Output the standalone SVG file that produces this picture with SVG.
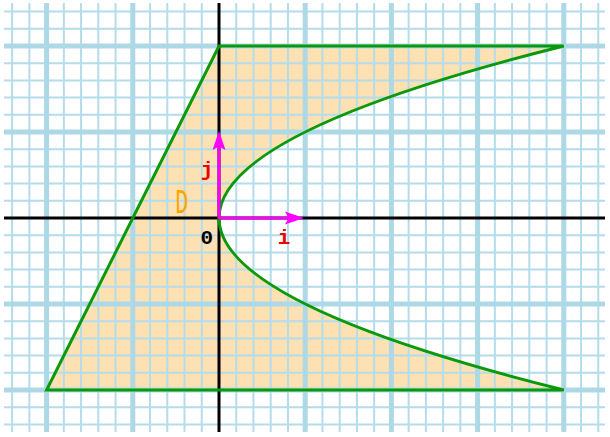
<svg xmlns="http://www.w3.org/2000/svg" width="610" height="437" viewBox="0 0 610 437">
<style>
.minor{stroke:#b4dcea;stroke-width:2;fill:none}
.major{stroke:#add8e6;stroke-width:5;fill:none}
.axis{stroke:#000;stroke-width:3;fill:none}
.region{fill:#fde1b3;stroke:none}
.edge{fill:none;stroke:#0a990a;stroke-width:3;stroke-linejoin:miter}
.vec{stroke:#ff00ff;stroke-width:3;fill:none}
.head{fill:#ff00ff;stroke:none}
.lbl{font-family:"Liberation Mono","DejaVu Sans Mono",monospace;font-weight:bold;font-size:21px;text-anchor:middle}
</style>
<rect width="610" height="437" fill="#fff"/>
<g id="region-D">
<path class="region" d="M219,46 L563.8,46 Q-125.8,218 563.8,390 L46.6,390 Z"/>
</g>
<g id="grid">
<path class="minor" d="M12.12,3V432M29.36,3V432M63.84,3V432M81.08,3V432M98.32,3V432M115.56,3V432M150.04,3V432M167.28,3V432M184.52,3V432M201.76,3V432M236.24,3V432M253.48,3V432M270.72,3V432M287.96,3V432M322.44,3V432M339.68,3V432M356.92,3V432M374.16,3V432M408.64,3V432M425.88,3V432M443.12,3V432M460.36,3V432M494.84,3V432M512.08,3V432M529.32,3V432M546.56,3V432M581.04,3V432M598.28,3V432
M4,11.6H605M4,28.8H605M4,63.2H605M4,80.4H605M4,97.6H605M4,114.8H605M4,149.2H605M4,166.4H605M4,183.6H605M4,200.8H605M4,235.2H605M4,252.4H605M4,269.6H605M4,286.8H605M4,321.2H605M4,338.4H605M4,355.6H605M4,372.8H605M4,407.2H605M4,424.4H605"/>
<path class="major" d="M46.6,3V432M132.8,3V432M305.2,3V432M391.4,3V432M477.6,3V432M563.8,3V432M4,46H605M4,132H605M4,304H605M4,390H605"/>
</g>
<g id="axes">
<path class="axis" d="M219,3V432M4,218H605"/>
</g>
<g id="boundary">
<path class="edge" d="M219,46 L563.8,46 Q-125.8,218 563.8,390 L46.6,390 Z"/>
</g>
<g id="vectors">
<g id="vec-i">
<path class="vec" d="M219,218H289"/>
<polygon class="head" points="304,218 285,211.5 288.5,218 285,224.5"/>
</g>
<g id="vec-j">
<path class="vec" d="M219,218V147"/>
<polygon class="head" points="219,131 212.5,150 219,146.5 225.5,150"/>
</g>
</g>
<g id="labels">
<text class="lbl" x="207" y="176" fill="#f00000">j</text>
<text class="lbl" x="284" y="244" fill="#f00000">i</text>
<text class="lbl" x="206.7" y="244" fill="#000">0</text>
<text x="0" y="0" transform="translate(181.7,213) scale(0.6,1)" font-family="Liberation Mono, monospace" font-size="36" fill="#ffa500" text-anchor="middle">D</text>
</g>
</svg>
